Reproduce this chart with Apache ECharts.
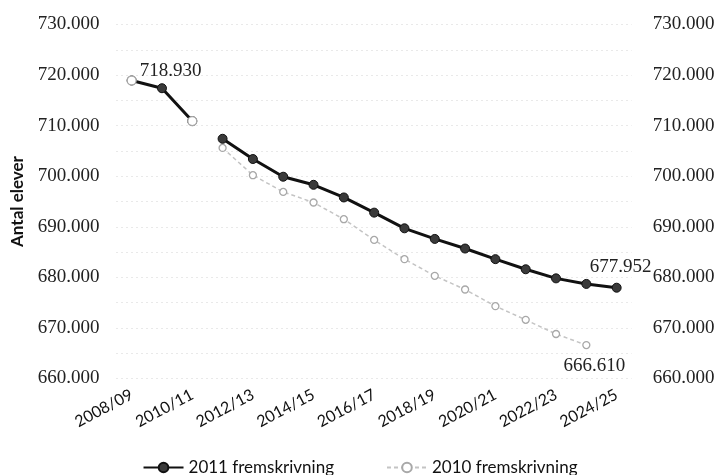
<!DOCTYPE html>
<html>
<head>
<meta charset="utf-8">
<script src="https://cdn.jsdelivr.net/npm/echarts@6/dist/echarts.min.js"></script>
<style>
html,body{margin:0;padding:0;background:#fff;}
#chart{width:720px;height:475px;}
</style>
</head>
<body>
<div id="chart"></div>
<script>
const categories = ['2008/09','2009/10','2010/11','2011/12','2012/13','2013/14','2014/15','2015/16','2016/17','2017/18','2018/19','2019/20','2020/21','2021/22','2022/23','2023/24','2024/25'];
const actualValues = [718930, 717400, 710900];
const proj2011 = [null, null, null, 707400, 703400, 699900, 698300, 695800, 692800, 689700, 687600, 685700, 683600, 681600, 679800, 678700, 677952];
const proj2010 = [null, null, null, 705600, 700200, 696900, 694800, 691500, 687400, 683600, 680300, 677600, 674300, 671600, 668800, 666610, null];
const proj2010Start = [718930, null, 710900];
const seriesNames = ['2011 fremskrivning', '2010 fremskrivning'];
const yAxisName = 'Antal elever';
const yMin = 660000, yMax = 730000;

function fmt(n){ return String(n).replace(/\B(?=(\d{3})+(?!\d))/g, '.'); }
function lastIndex(arr){ let k = -1; arr.forEach((v,i)=>{ if (v !== null) k = i; }); return k; }

const serifFont = "'Liberation Serif', serif";
const sansFont = "Lato, 'Open Sans', sans-serif";

const blackLine = { color: '#111', width: 3 };
const blackItem = { color: '#3a3a3a', borderColor: '#111', borderWidth: 1 };
const lightLine = { color: '#c4c4c4', width: 1.5, type: [4, 3] };
const lightItem = { color: '#ffffff', borderColor: '#a8a8a8', borderWidth: 1.3 };

const chart = echarts.init(document.getElementById('chart'), null, { renderer: 'canvas' });

const last2011 = lastIndex(proj2011);
const last2010 = lastIndex(proj2010);

const yLabel = {
  fontFamily: serifFont, fontSize: 19, color: '#222',
  formatter: v => (v % 10000 === 0 ? fmt(v) : '')
};

chart.setOption({
  animation: false,
  backgroundColor: '#fff',
  grid: { left: 116.5, right: 88.2, top: 24.5, bottom: 96.5, containLabel: false },
  legend: {
    data: seriesNames,
    top: 454,
    left: 'center',
    itemWidth: 40,
    itemHeight: 12,
    itemGap: 52,
    textStyle: { fontFamily: sansFont, fontSize: 17, color: '#111' }
  },
  xAxis: {
    type: 'category',
    data: categories,
    boundaryGap: true,
    axisLine: { show: false },
    axisTick: { show: false },
    axisLabel: {
      interval: 1,
      rotate: 28,
      margin: 15,
      fontFamily: sansFont,
      fontSize: 16,
      color: '#111'
    },
    splitLine: { show: false }
  },
  yAxis: [
    {
      type: 'value', min: yMin, max: yMax, interval: 5000,
      position: 'left',
      name: yAxisName,
      nameLocation: 'middle',
      nameRotate: 90,
      nameGap: 90,
      nameTextStyle: { fontFamily: sansFont, fontWeight: 'bold', fontSize: 17, color: '#111' },
      axisLine: { show: false }, axisTick: { show: false },
      axisLabel: Object.assign({ margin: 17 }, yLabel),
      splitLine: { show: true, lineStyle: { color: '#d2d2d2', type: [1, 4], width: 1 } }
    },
    {
      type: 'value', min: yMin, max: yMax, interval: 5000,
      position: 'right',
      axisLine: { show: false }, axisTick: { show: false },
      axisLabel: Object.assign({ margin: 21 }, yLabel),
      splitLine: { show: false }
    }
  ],
  series: [
    {
      name: seriesNames[0], type: 'line', data: proj2011,
      symbol: 'circle', symbolSize: 9, showAllSymbol: true,
      lineStyle: blackLine, itemStyle: blackItem, z: 4,
      label: {
        show: true, position: 'top', distance: 6, offset: [4, 0],
        fontFamily: serifFont, fontSize: 19, color: '#222',
        formatter: p => (p.dataIndex === last2011 ? fmt(p.value) : '')
      }
    },
    {
      name: seriesNames[1], type: 'line', data: proj2010,
      symbol: 'circle', symbolSize: 7, showAllSymbol: true,
      lineStyle: lightLine, itemStyle: lightItem, z: 3,
      label: {
        show: true, position: 'bottom', distance: 7, offset: [8, 0],
        fontFamily: serifFont, fontSize: 19, color: '#222',
        formatter: p => (p.dataIndex === last2010 ? fmt(p.value) : '')
      }
    },
    {
      name: seriesNames[0], type: 'line', data: actualValues,
      symbol: 'circle', symbolSize: 9, showAllSymbol: true,
      lineStyle: blackLine, itemStyle: blackItem, z: 4,
      label: {
        show: true, position: 'right', distance: 3, offset: [0, -9],
        fontFamily: serifFont, fontSize: 19, color: '#222',
        formatter: p => (p.dataIndex === 0 ? fmt(p.value) : '')
      }
    },
    {
      name: seriesNames[1], type: 'line', data: proj2010Start,
      symbol: 'circle', symbolSize: 9, showAllSymbol: true,
      lineStyle: { opacity: 0 }, itemStyle: lightItem, z: 5
    }
  ]
});
</script>
</body>
</html>
